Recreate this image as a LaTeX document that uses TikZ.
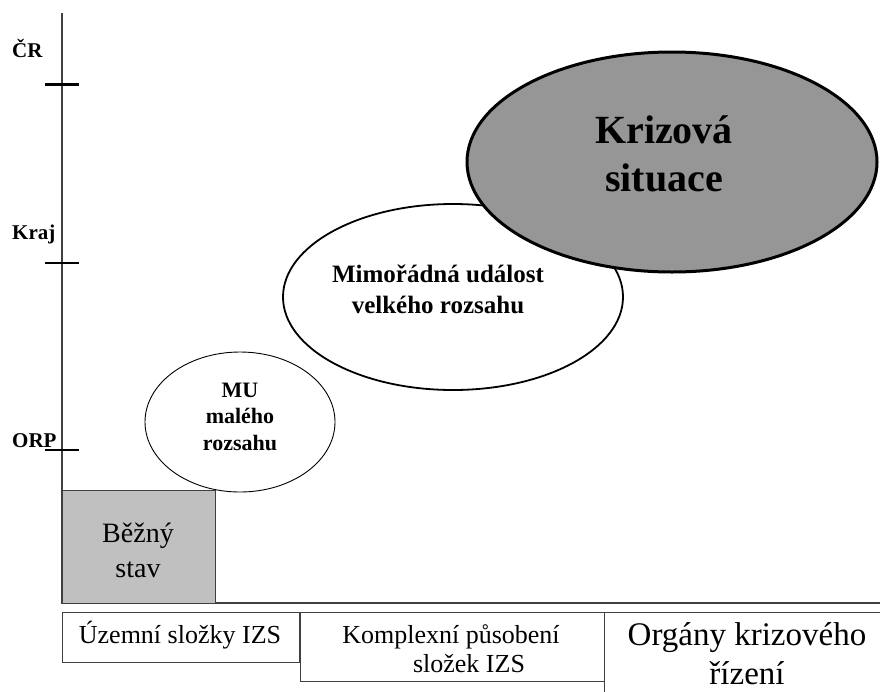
\documentclass[tikz,border=0pt]{standalone}
\usepackage{fontspec}
\setmainfont{Liberation Serif}
\usetikzlibrary{shapes.geometric}
\definecolor{crisisgray}{HTML}{969696}
\definecolor{normalgray}{HTML}{C0C0C0}
\definecolor{axisgray}{HTML}{404040}
\begin{document}
\begin{tikzpicture}[x=1pt,y=-1pt,
  levellbl/.style={font=\bfseries\fontsize{21}{24}\selectfont, anchor=base west, inner sep=0},
  tickmark/.style={line width=3pt, black},
  axisline/.style={line width=1.6pt, axisgray},
  oval/.style={ellipse, draw=black, fill=white, inner sep=0},
  ovaltext/.style={font=\bfseries, anchor=base, inner sep=0},
  boxtext/.style={anchor=base, inner sep=0},
  framebox/.style={draw=axisgray, line width=1.3pt, fill=white, anchor=north west, inner sep=0}
]
\useasboundingbox (0,0) rectangle (880,691);

% axes
\coordinate (axtop) at (62,13);
\coordinate (origin) at (62,603);
\coordinate (axright) at (882,603);
\draw[axisline] (axtop) -- (origin) -- (axright);

% level ticks and labels
\coordinate (crL) at (45,84);  \coordinate (crR) at (79,84);
\coordinate (krL) at (45,263); \coordinate (krR) at (79,263);
\coordinate (orL) at (45,450); \coordinate (orR) at (79,450);
\draw[tickmark] (crL) -- (crR);
\draw[tickmark, line width=2.4pt] (krL) -- (krR);
\draw[tickmark, line width=2.4pt] (orL) -- (orR);
\node[levellbl] (cr) at (12,57) {ČR};
\node[levellbl] (kraj) at (12,239) {Kraj};
\node[levellbl] (orp) at (12,447) {ORP};

% normal state box
\node[framebox, fill=normalgray, minimum width=153pt, minimum height=113pt] (bezny) at (62,490) {};
\node[boxtext, font=\fontsize{28}{32}\selectfont] (bez1) at (138,542) {Běžný};
\node[boxtext, font=\fontsize{28}{32}\selectfont] (bez2) at (138,577) {stav};

% ellipses
\node[oval, line width=0.9pt, minimum width=190pt, minimum height=140pt] (mu) at (240,422) {};
\node[oval, line width=1.8pt, minimum width=340pt, minimum height=186pt] (mimo) at (453,297) {};
\node[oval, line width=3pt, fill=crisisgray, minimum width=410pt, minimum height=220pt] (krize) at (672,162) {};

\node[ovaltext, font=\bfseries\fontsize{22}{26}\selectfont] (mu1) at (240,397) {MU};
\node[ovaltext, font=\bfseries\fontsize{22}{26}\selectfont] (mu2) at (240,423) {malého};
\node[ovaltext, font=\bfseries\fontsize{22}{26}\selectfont] (mu3) at (240,450) {rozsahu};

\node[ovaltext, font=\bfseries\fontsize{25}{30}\selectfont] (mimo1) at (438,282) {Mimořádná událost};
\node[ovaltext, font=\bfseries\fontsize{25}{30}\selectfont] (mimo2) at (438,313) {velkého rozsahu};

\node[ovaltext, font=\bfseries\fontsize{40}{48}\selectfont] (kr1) at (664,143) {Krizová};
\node[ovaltext, font=\bfseries\fontsize{40}{48}\selectfont] (kr2) at (664,191) {situace};

% bottom boxes
\node[framebox, minimum width=237pt, minimum height=50pt] (b1) at (62,612) {};
\node[framebox, minimum width=305pt, minimum height=69pt] (b2) at (300,612) {};
\node[framebox, minimum width=290pt, minimum height=100pt] (b3) at (604,612) {};

\node[boxtext, font=\fontsize{26}{30}\selectfont] (b1t) at (180,643) {Územní složky IZS};
\node[boxtext, font=\fontsize{26}{30}\selectfont] (b2t1) at (451,643) {Komplexní působení};
\node[boxtext, font=\fontsize{26}{30}\selectfont] (b2t2) at (469,672) {složek IZS};
\node[boxtext, font=\fontsize{33}{40}\selectfont] (b3t1) at (747,645) {Orgány krizového};
\node[boxtext, font=\fontsize{33}{40}\selectfont] (b3t2) at (747,684) {řízení};
\end{tikzpicture}
\end{document}
